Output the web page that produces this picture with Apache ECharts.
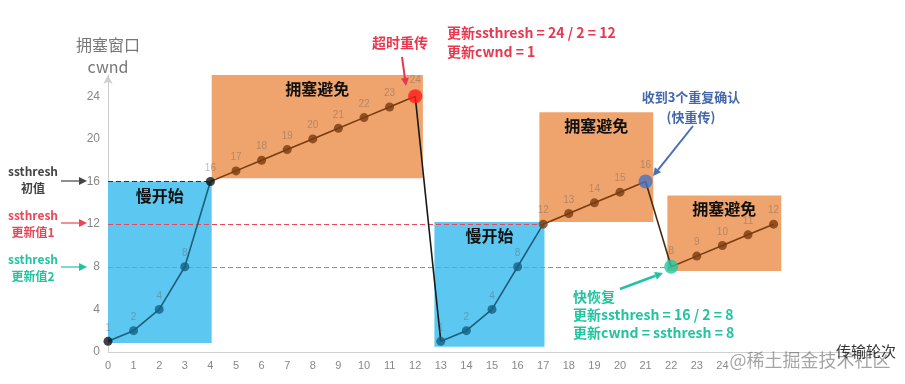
<!DOCTYPE html>
<html>
<head>
<meta charset="utf-8">
<script src="https://cdn.jsdelivr.net/npm/echarts@6/dist/echarts.min.js"></script>
<style>html,body{margin:0;padding:0;background:#fff}#c{width:905px;height:384px}</style>
</head>
<body>
<div id="c"></div>
<script>
// ---- data ----
const rounds = [0,1,2,3,4,5,6,7,8,9,10,11,12,13,14,15,16,17,18,19,20,21,22,23,24,25,26];
const cwnd   = [1,2,4,8,16,17,18,19,20,21,22,23,24,1,2,4,8,12,13,14,15,16,8,9,10,11,12];
const xTickMax = 24;
const yTicks = [0,4,8,12,16,20,24];
const ssthreshInit = 16, ssthresh1 = 12, ssthresh2 = 8;
// phase ranges (in data units): [x0, x1, y0, y1, name, kind]
const phases = [
  [0, 4.05, 0.85, 16, '慢开始', 'ss'],
  [4.05, 12.3, 16.3, 26.4, '拥塞避免', 'ca'],
  [12.75, 17.05, 0.5, 12.2, '慢开始', 'ss'],
  [16.85, 21.3, 12.2, 22.5, '拥塞避免', 'ca'],
  [21.85, 26.3, 7.6, 14.7, '拥塞避免', 'ca']
];
// line segments by index range
const segments = [[0,4,'#1d5e7b'],[4,12,'#7a3b0e'],[12,13,'#1a1a1a'],[13,17,'#1d5e7b'],[17,21,'#7a3b0e'],[21,22,'#4a2a10'],[22,26,'#7a3b0e']];

const pointColor = i => {
  if (i === 0 || i === 4) return '#111';
  if (i === 12) return '#ff1a1a';
  if (i === 21) return '#4472c4';
  if (i === 22) return '#1fc9a6';
  if ((i >= 1 && i <= 3) || (i >= 13 && i <= 16)) return '#14607f';
  return '#7a3b0e';
};
const pointSize = i => (i === 12 || i === 21 || i === 22) ? 14 : 9;

const chart = echarts.init(document.getElementById('c'), null, {renderer:'canvas'});
const cjk = '"Noto Sans CJK SC", "Noto Sans", sans-serif';

function arrow(x1,y1,x2,y2,color,w){
  const a = Math.atan2(y2-y1, x2-x1), L = 8, W = 4;
  const bx = x2 - L*Math.cos(a), by = y2 - L*Math.sin(a);
  return [
    {type:'line', shape:{x1,y1,x2:bx,y2:by}, style:{stroke:color, lineWidth:w}, z:50},
    {type:'polygon', shape:{points:[[x2,y2],[bx+W*Math.sin(a), by-W*Math.cos(a)],[bx-W*Math.sin(a), by+W*Math.cos(a)]]}, style:{fill:color}, z:50}
  ];
}
function txt(x,y,text,color,size,align,lh){
  return {type:'text', x, y, z:60, style:{text, fill:color, font:'bold '+size+'px '+cjk, align:align||'left', verticalAlign:'middle', lineHeight:lh||(size+5)}};
}

const series = [];
// boxes
series.push({
  type:'line', data:[], silent:true, z:1,
  markArea:{silent:true, data: phases.map(p => [{
      coord:[p[0],p[2]],
      itemStyle:{color: p[5]==='ss' ? '#5cc8f2' : '#efa46e', opacity:1},
      label:{show:true, position:'insideTop', distance:6, formatter:p[4], color:'#111', fontSize:16, fontWeight:'bold', fontFamily:cjk}
    },{coord:[p[1],p[3]]}])}
});
// threshold dashed lines
series.push({
  type:'line', data:[], silent:true, z:2,
  markLine:{silent:true, symbol:'none', label:{show:false},
    data:[
      [{coord:[0,ssthreshInit], lineStyle:{color:'#333', type:[5,3], width:1}},{coord:[4,ssthreshInit]}],
      [{coord:[0,ssthresh1], lineStyle:{color:'#e8475a', type:[5,3], width:1}},{coord:[17,ssthresh1]}],
      [{coord:[0,ssthresh2], lineStyle:{color:'#2cc4a6', type:[5,3], width:1}},{coord:[22,ssthresh2]}]
    ]}
});
segments.forEach(s => {
  const d = [];
  for (let i = s[0]; i <= s[1]; i++) d.push([rounds[i], cwnd[i]]);
  series.push({type:'line', data:d, showSymbol:false, symbol:'none', z:5, lineStyle:{color:s[2], width:1.6}, silent:true});
});
series.push({
  type:'scatter', z:10,
  data: rounds.map((r,i) => ({value:[r,cwnd[i]], symbolSize:pointSize(i), itemStyle:{color:pointColor(i)}})),
  label:{show:true, position:'top', distance:4, formatter:p => p.value[1], color:'rgba(90,90,90,0.5)', fontSize:10, fontFamily:'sans-serif'}
});

const graphics = [].concat(
  [{type:'text', x:108, y:56, z:60, style:{text:'拥塞窗口\ncwnd', fill:'#777', font:'16px '+cjk, align:'center', verticalAlign:'middle', lineHeight:22}}],
  [txt(33,180,'ssthresh\n初值','#444',12,'center')], arrow(61,181,87,181,'#444',1.2),
  [txt(33,224,'ssthresh\n更新值1','#e8475a',12,'center')], arrow(61,223,87,223,'#e8475a',1.2),
  [txt(33,268,'ssthresh\n更新值2','#22c3a0',12,'center')], arrow(61,267,87,267,'#22c3a0',1.2),
  [txt(400,43,'超时重传','#e8384f',14,'center')], arrow(402,57,406,86,'#e8384f',2),
  [txt(447,42,'更新ssthresh = 24 / 2 = 12\n更新cwnd = 1','#e8384f',14,'left')],
  [txt(691,97,'收到3个重复确认','#4466aa',13,'center')],
  [txt(691,117,'(快重传)','#4466aa',13,'center')],
  arrow(693,126,653,176,'#4a6fb5',2),
  arrow(620,289,663,273,'#22c3a0',2.5),
  [txt(573,297,'快恢复','#22c3a0',14,'left')],
  [txt(573,315,'更新ssthresh = 16 / 2 = 8','#22c3a0',14,'left')],
  [txt(573,333,'更新cwnd = ssthresh = 8','#22c3a0',14,'left')],
  [{type:'text', x:810, y:360, z:55, style:{text:'@稀土掘金技术社区', fill:'rgba(90,90,90,0.55)', font:'18px '+cjk, align:'center', verticalAlign:'middle'}}],
  [{type:'text', x:866, y:351, z:56, style:{text:'传输轮次', fill:'#333', font:'15px '+cjk, align:'center', verticalAlign:'middle'}}]
);

chart.setOption({
  animation:false,
  backgroundColor:'#fff',
  grid:{left:108, right:29, top:75, bottom:32, containLabel:false},
  xAxis:{type:'value', min:0, max:30, interval:1,
    axisLine:{show:true, lineStyle:{color:'#d0d0d0', width:1}},
    axisTick:{show:false}, splitLine:{show:false},
    axisLabel:{color:'#888', fontSize:11, margin:8, formatter:v => v <= xTickMax ? String(v) : ''}},
  yAxis:{type:'value', min:0, max:26, interval:4,
    axisLine:{show:true, symbol:['none','arrow'], symbolSize:[7,9], lineStyle:{color:'#cfcfcf', width:1}},
    axisTick:{show:false}, splitLine:{show:false},
    axisLabel:{color:'#888', fontSize:12, margin:8, formatter:v => yTicks.indexOf(v) >= 0 ? String(v) : ''}},
  series,
  graphic:graphics
});
</script>
</body>
</html>
